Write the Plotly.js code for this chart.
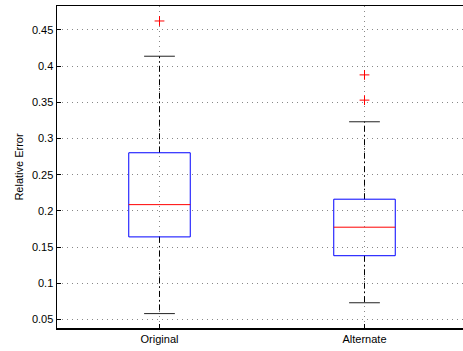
<!DOCTYPE html>
<html>
<head>
<meta charset="utf-8">
<script src="https://cdn.plot.ly/plotly-3.0.1.min.js"></script>
<style>html,body{margin:0;padding:0;background:#fff;}#chart{width:463px;height:351px;}</style>
</head>
<body>
<div id="chart"></div>
<script>
var categories = ['Original', 'Alternate'];
var lowerWhisker = [0.058, 0.073];
var q1 = [0.164, 0.138];
var median = [0.2086, 0.1774];
var q3 = [0.2803, 0.2161];
var upperWhisker = [0.4137, 0.3231];
var outliers = [[0.4624], [0.3879, 0.353]];
var yTickVals = [0.05, 0.1, 0.15, 0.2, 0.25, 0.3, 0.35, 0.4, 0.45];
var yTickText = ['0.05', '0.1', '0.15', '0.2', '0.25', '0.3', '0.35', '0.4', '0.45'];

var boxHalf = 0.15, capHalf = 0.075;
var wx = [], wy = [], cx = [], cy = [], bx = [], by = [], mx = [], my = [], ox = [], oy = [];
categories.forEach(function (c, i) {
  var p = i + 1;
  wx.push(p, p, null, p, p, null);
  wy.push(q3[i], upperWhisker[i], null, q1[i], lowerWhisker[i], null);
  cx.push(p - capHalf, p + capHalf, null, p - capHalf, p + capHalf, null);
  cy.push(upperWhisker[i], upperWhisker[i], null, lowerWhisker[i], lowerWhisker[i], null);
  bx.push(p - boxHalf, p + boxHalf, p + boxHalf, p - boxHalf, p - boxHalf, null);
  by.push(q1[i], q1[i], q3[i], q3[i], q1[i], null);
  mx.push(p - boxHalf, p + boxHalf, null);
  my.push(median[i], median[i], null);
  outliers[i].forEach(function (v) { ox.push(p); oy.push(v); });
});

var traces = [
  {x: wx, y: wy, mode: 'lines', line: {color: '#000', width: 1, dash: '6px,3px,1.5px,3px'}, hoverinfo: 'skip'},
  {x: cx, y: cy, mode: 'lines', line: {color: '#222', width: 1}, hoverinfo: 'skip'},
  {x: bx, y: by, mode: 'lines', line: {color: '#0000ff', width: 1}, hoverinfo: 'skip'},
  {x: mx, y: my, mode: 'lines', line: {color: '#ff0000', width: 1}, hoverinfo: 'skip'},
  {x: ox, y: oy, mode: 'markers', marker: {symbol: 'cross-thin-open', size: 7, color: '#ff0000', line: {color: '#ff0000', width: 1}}, hoverinfo: 'skip'}
];

var layout = {
  width: 463, height: 351,
  margin: {l: 57, r: 0, t: 6, b: 23},
  showlegend: false,
  paper_bgcolor: '#fff', plot_bgcolor: '#fff',
  font: {family: 'Liberation Sans, Arial, sans-serif', size: 11, color: '#000'},
  xaxis: {
    range: [0.5, 2.4805], tickvals: [1, 2], ticktext: categories,
    showgrid: true, gridcolor: '#888', gridwidth: 1, griddash: '1px,4px',
    zeroline: false, showline: true, linecolor: '#000', linewidth: 1.5, mirror: true,
    ticks: 'inside', ticklen: 4, tickcolor: '#000', tickfont: {size: 11}
  },
  yaxis: {
    range: [0.0381, 0.4831], tickvals: yTickVals, ticktext: yTickText,
    showgrid: true, gridcolor: '#888', gridwidth: 1, griddash: '1px,4px',
    zeroline: false, showline: true, linecolor: '#000', linewidth: 1.5,
    ticks: 'inside', ticklen: 4, tickcolor: '#000', tickfont: {size: 11},
    title: {text: 'Relative Error', font: {size: 11}, standoff: 6}
  }
};

Plotly.newPlot('chart', traces, layout, {staticPlot: true, displayModeBar: false});
</script>
</body>
</html>
